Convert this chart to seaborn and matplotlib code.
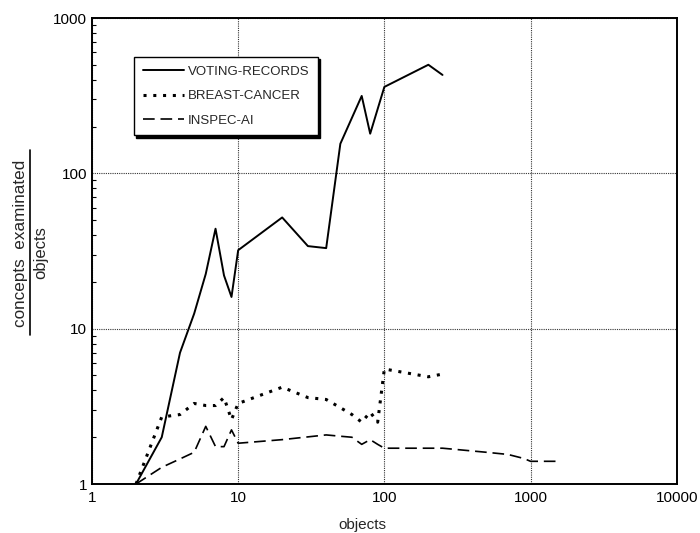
import matplotlib
matplotlib.use("Agg")
import matplotlib.pyplot as plt
import seaborn as sns
import pandas as pd
from matplotlib.lines import Line2D
from matplotlib.ticker import LogLocator, FixedLocator, NullFormatter, FixedFormatter

# ---- data ----
vote_x = [2, 3, 4, 5, 6, 7, 8, 9, 10, 20, 30, 40, 50, 70, 80, 100, 200, 250]
vote_y = [1.0, 2.0, 7.0, 12.5, 22.5, 44, 22, 16, 32, 52, 34, 33, 155, 315, 180, 360, 500, 430]

breast_x = [2, 3, 4, 5, 6, 7, 8, 9, 10, 20, 30, 40, 50, 60, 70, 80, 90, 100, 200, 250]
breast_y = [1.0, 2.7, 2.8, 3.3, 3.2, 3.2, 3.6, 2.6, 3.3, 4.2, 3.6, 3.5, 3.1, 2.8, 2.5, 2.9, 2.5, 5.5, 4.9, 5.1]

inspec_x = [2, 3, 4, 5, 6, 7, 8, 9, 10, 20, 40, 50, 60, 70, 80, 90, 100, 250, 500, 700, 900, 1000, 1500]
inspec_y = [1.0, 1.28, 1.45, 1.6, 2.35, 1.74, 1.74, 2.23, 1.83, 1.93, 2.07, 2.03, 2.0, 1.8, 1.93, 1.8, 1.7, 1.7, 1.6, 1.55, 1.46, 1.4, 1.4]

series_names = ["VOTING-RECORDS", "BREAST-CANCER", "INSPEC-AI"]
x_ticks = [1, 10, 100, 1000, 10000]
x_tick_labels = ["1", "10", "100", "1000", "10000"]
y_ticks = [1, 10, 100, 1000]
y_tick_labels = ["1", "10", "100", "1000"]
x_label = "objects"
y_label_num = "concepts  examinated"
y_label_den = "objects"

sns.set_style("white")
plt.rcParams["font.family"] = ["Liberation Sans", "DejaVu Sans"]

fig = plt.figure(figsize=(7.0, 5.33), dpi=100)
ax = fig.add_axes([92 / 700, 1 - 484 / 533, (676.7 - 92) / 700, (484 - 18) / 533])

styles = [
    dict(color="black", linewidth=1.4, linestyle="-"),
    dict(color="black", linewidth=2.2, linestyle=(0, (1, 2.2))),
    dict(color="black", linewidth=1.2, linestyle=(0, (7, 3.5))),
]
datasets = [(vote_x, vote_y), (breast_x, breast_y), (inspec_x, inspec_y)]
for name, (xs, ys), st in zip(series_names, datasets, styles):
    df = pd.DataFrame({"x": xs, "y": ys})
    sns.lineplot(data=df, x="x", y="y", ax=ax, label=name, estimator=None,
                 sort=False, **st)

ax.set_xscale("log")
ax.set_yscale("log")
ax.set_xlim(1, 10000)
ax.set_ylim(1, 1000)

ax.xaxis.set_major_locator(FixedLocator(x_ticks))
ax.xaxis.set_major_formatter(FixedFormatter(x_tick_labels))
ax.xaxis.set_minor_locator(FixedLocator([]))
ax.yaxis.set_major_locator(FixedLocator(y_ticks))
ax.yaxis.set_major_formatter(FixedFormatter(y_tick_labels))
ax.yaxis.set_minor_locator(LogLocator(base=10, subs=range(2, 10)))
ax.yaxis.set_minor_formatter(NullFormatter())

ax.tick_params(axis="x", which="major", direction="out", length=3, width=1,
               labelsize=11, pad=2, colors="black")
ax.tick_params(axis="y", which="major", direction="out", length=3, width=1,
               labelsize=11, pad=0.5, colors="black")
ax.tick_params(axis="y", which="minor", direction="in", length=3, width=0.8,
               left=True, colors="black")

ax.grid(which="major", linestyle=(0, (1, 1)), color="#333333", linewidth=0.8)
for sp in ax.spines.values():
    sp.set_color("black")
    sp.set_linewidth(1.4)
    sp.set_visible(True)

ax.set_xlabel("")
ax.set_ylabel("")
fig.text(362 / 700, 1 - 525 / 533, x_label, ha="center", va="center", fontsize=11)

# fraction-style y label
fig.text(21 / 700, 1 - 243 / 533, y_label_num, rotation=90, ha="center", va="center",
         fontsize=12.3)
fig.text(41 / 700, 1 - 253 / 533, y_label_den, rotation=90, ha="center", va="center",
         fontsize=12)
fig.add_artist(Line2D([30 / 700, 30 / 700], [1 - 150 / 533, 1 - 335 / 533],
                      transform=fig.transFigure, color="black", linewidth=1.2))

leg = ax.legend(loc="upper left", bbox_to_anchor=(0.072, 0.916), frameon=True,
                fancybox=False,
                shadow={"ox": 1.6, "oy": -1.6, "color": "black", "alpha": 1.0},
                fontsize=9.5, handlelength=3.1, labelspacing=0.92,
                borderpad=0.65, handletextpad=0.3, borderaxespad=0)
leg.get_frame().set_edgecolor("black")
leg.get_frame().set_linewidth(1.0)
leg.get_frame().set_alpha(1.0)

fig.savefig("out.png", dpi=100)
